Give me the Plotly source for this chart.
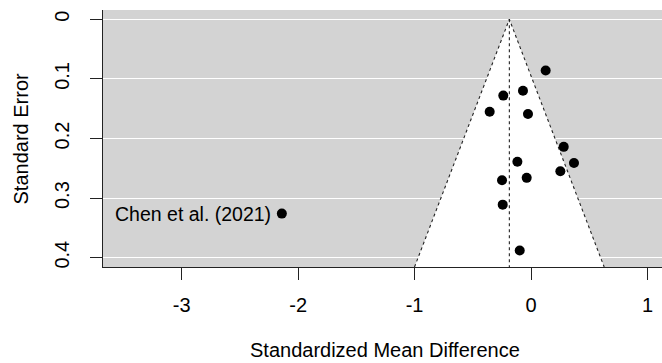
import plotly.graph_objects as go

# Study data
study_labels = ["", "", "", "", "", "", "", "", "", "", "", "", "", "Chen et al. (2021)"]
smd = [0.126, -0.069, -0.238, -0.355, -0.026, 0.281, 0.369, -0.117, 0.252, -0.037, -0.249, -0.243, -0.097, -2.14]
se = [0.086, 0.120, 0.128, 0.155, 0.159, 0.214, 0.241, 0.239, 0.255, 0.266, 0.270, 0.311, 0.388, 0.326]

pooled_estimate = -0.186
y_tick_vals = [0, 0.1, 0.2, 0.3, 0.4]
y_tick_text = ["0", "0.1", "0.2", "0.3", "0.4"]
x_tick_vals = [-3, -2, -1, 0, 1]
x_tick_text = ["-3", "-2", "-1", "0", "1"]

se_max = 0.4156
x_range = [-3.676, 1.125]
y_range = [se_max, -0.0156]

FONT = "Liberation Sans, Arial, sans-serif"

fig = go.Figure()

# funnel (pseudo 95% confidence region)
fx = [pooled_estimate - 1.96 * se_max, pooled_estimate, pooled_estimate + 1.96 * se_max]
fy = [se_max, 0, se_max]
fig.add_trace(go.Scatter(
    x=fx, y=fy, mode="lines", fill="toself", fillcolor="white",
    line=dict(color="#222222", width=1.1, dash="dot"), hoverinfo="skip", showlegend=False,
))
# vertical line at pooled estimate
fig.add_trace(go.Scatter(
    x=[pooled_estimate, pooled_estimate], y=[0, se_max], mode="lines",
    line=dict(color="#222222", width=1.1, dash="dot"), hoverinfo="skip", showlegend=False,
))
# studies
fig.add_trace(go.Scatter(
    x=smd, y=se, mode="markers",
    marker=dict(color="black", size=10), showlegend=False,
))

for lab, xv, yv in zip(study_labels, smd, se):
    if lab:
        fig.add_annotation(x=xv, y=yv, text=lab, showarrow=False, xanchor="right",
                           yanchor="middle", xshift=-9,
                           font=dict(family=FONT, size=19.5, color="black"))

fig.update_layout(
    width=662, height=363, autosize=False,
    margin=dict(l=103, r=0, t=10, b=96),
    paper_bgcolor="white", plot_bgcolor="#D3D3D3",
    font=dict(family=FONT, size=20, color="black"),
    showlegend=False,
)
fig.update_xaxes(
    range=x_range, tickvals=x_tick_vals, ticktext=x_tick_text,
    showgrid=False, zeroline=False, showline=True, linecolor="#222222", linewidth=1,
    ticks="outside", ticklen=12, tickcolor="#222222", tickwidth=1,
    ticklabelstandoff=8,
)
fig.update_yaxes(
    range=y_range, tickvals=y_tick_vals, ticktext=y_tick_text, tickangle=-90,
    showgrid=True, gridcolor="white", gridwidth=1.3, zeroline=False,
    showline=True, linecolor="#222222", linewidth=1,
    ticks="outside", ticklen=12, tickcolor="#222222", tickwidth=1,
    ticklabelstandoff=13,
)

fig.add_annotation(xref="paper", yref="paper", x=0.5036, y=0, yshift=-83,
                   text="Standardized Mean Difference", showarrow=False,
                   xanchor="center", yanchor="middle", font=dict(family=FONT, size=20))
fig.add_annotation(xref="paper", yref="paper", x=0, y=0.5, xshift=-83,
                   text="Standard Error", showarrow=False, textangle=-90,
                   xanchor="center", yanchor="middle", font=dict(family=FONT, size=20))

fig.write_html(
    "out.html",
    config={"displayModeBar": False},
    post_script="document.body.style.margin='0';document.body.style.overflow='hidden';",
)
